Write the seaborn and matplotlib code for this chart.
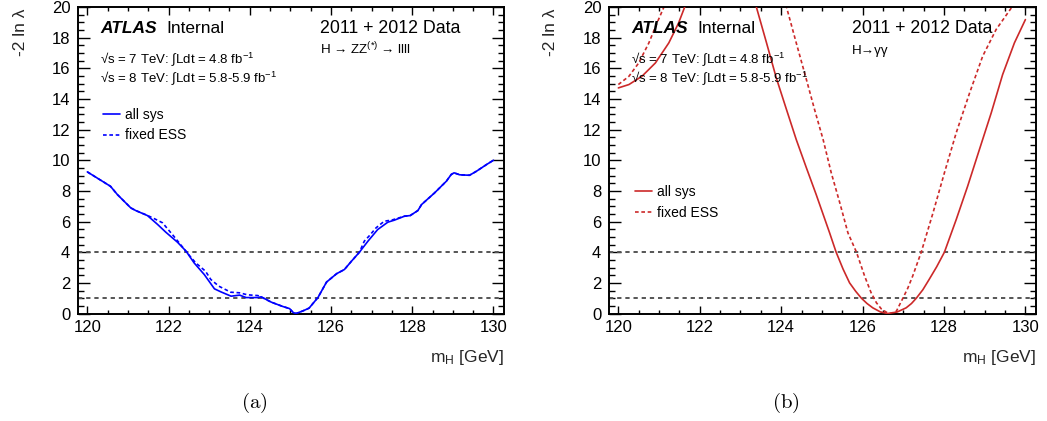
import matplotlib
matplotlib.use("Agg")
import matplotlib.pyplot as plt
from matplotlib.ticker import MultipleLocator
import pandas as pd
import seaborn as sns

# ---------------- H -> ZZ(*) -> 4l : -2 ln lambda vs mH ----------------
zz_mass_all = [120.00, 120.57, 120.74, 121.07, 121.19, 121.48, 121.73, 121.93,
               122.22, 122.43, 122.63, 122.88, 123.13, 123.29, 123.54, 123.75,
               123.91, 124.20, 124.28, 124.53, 124.81, 124.98, 125.07, 125.14,
               125.30, 125.46, 125.68, 125.89, 126.14, 126.33, 126.50, 126.70,
               126.91, 127.15, 127.40, 127.56, 127.81, 127.95, 128.14, 128.23,
               128.55, 128.84, 128.96, 129.03, 129.17, 129.41, 129.58, 129.83,
               130.00]
zz_nll_all = [9.24, 8.30, 7.76, 6.89, 6.72, 6.39, 5.81, 5.31,
              4.65, 4.07, 3.30, 2.54, 1.61, 1.41, 1.13, 1.20,
              1.04, 1.04, 1.09, 0.74, 0.46, 0.32, 0.06, 0.00,
              0.16, 0.35, 1.05, 2.05, 2.60, 2.87, 3.40, 4.00,
              4.72, 5.48, 5.96, 6.09, 6.35, 6.39, 6.72, 7.11,
              7.87, 8.63, 9.07, 9.18, 9.05, 9.02, 9.28, 9.72,
              10.00]

zz_mass_fixed = [120.00, 120.57, 120.74, 121.07, 121.19, 121.48, 121.64, 121.85,
                 122.13, 122.34, 122.46, 122.67, 122.91, 123.04, 123.24, 123.53,
                 123.75, 123.94, 124.20, 124.30, 124.53, 124.81, 124.98, 125.07,
                 125.14, 125.30, 125.46, 125.68, 125.89, 126.14, 126.33, 126.50,
                 126.70, 126.82, 126.95, 127.11, 127.31, 127.50, 127.81, 127.95,
                 128.14, 128.23, 128.55, 128.84, 128.96, 129.03, 129.17, 129.41,
                 129.58, 129.83, 130.00]
zz_nll_fixed = [9.24, 8.30, 7.76, 6.89, 6.72, 6.40, 6.20, 5.92,
                5.04, 4.35, 3.95, 3.30, 2.76, 2.22, 1.78, 1.39,
                1.35, 1.22, 1.17, 1.05, 0.74, 0.46, 0.32, 0.06,
                0.00, 0.16, 0.35, 1.05, 2.05, 2.60, 2.87, 3.40,
                4.00, 4.72, 5.09, 5.59, 6.02, 6.10, 6.35, 6.39,
                6.72, 7.11, 7.87, 8.63, 9.07, 9.18, 9.05, 9.02,
                9.28, 9.72, 10.00]

# ---------------- H -> gamma gamma : -2 ln lambda vs mH ----------------
gg_mass_all = [120.00, 120.26, 120.58, 120.91, 121.24, 121.48, 121.63, 121.90,
               122.50, 123.10, 123.39, 123.64, 123.88, 124.13, 124.37, 124.62,
               124.86, 125.19, 125.35, 125.52, 125.68, 125.83, 125.97, 126.11,
               126.25, 126.44, 126.62, 126.85, 127.07, 127.20, 127.32, 127.48,
               127.63, 127.82, 128.01, 128.30, 128.58, 128.87, 129.16, 129.44,
               129.73, 130.00]
gg_nll_all = [14.72, 14.94, 15.48, 16.35, 17.66, 18.96, 20.00, 21.50,
              22.50, 21.80, 20.00, 17.66, 15.37, 13.31, 11.35, 9.50,
              7.76, 5.26, 4.00, 2.90, 2.00, 1.45, 1.00, 0.65,
              0.37, 0.10, 0.00, 0.10, 0.37, 0.65, 1.00, 1.55,
              2.20, 3.05, 4.00, 6.13, 8.30, 10.70, 13.09, 15.59,
              17.66, 19.18]

gg_mass_fixed = [120.00, 120.26, 120.50, 120.75, 120.95, 121.12, 121.40, 122.60,
                 123.90, 124.13, 124.37, 124.62, 124.82, 125.03, 125.23, 125.44,
                 125.64, 125.85, 126.05, 126.21, 126.34, 126.46, 126.58, 126.70,
                 126.83, 126.99, 127.11, 127.23, 127.44, 127.73, 128.01, 128.30,
                 128.63, 128.95, 129.28, 129.67, 130.00]
gg_nll_fixed = [14.94, 15.48, 16.35, 17.66, 18.96, 20.00, 21.60, 23.20,
                21.50, 20.00, 17.66, 15.26, 13.31, 11.35, 9.18, 7.22,
                5.26, 4.00, 2.44, 1.35, 0.70, 0.30, 0.09, 0.00,
                0.15, 1.00, 1.65, 2.44, 4.00, 6.57, 9.18, 11.79,
                14.40, 16.79, 18.53, 20.00, 21.30]

series_labels = ["all sys", "fixed ESS"]
reference_levels = [1, 4]
lumi_lines = ["\u221as = 7 TeV: \u222bLdt = 4.8 fb$^{-1}$",
              "\u221as = 8 TeV: \u222bLdt = 5.8-5.9 fb$^{-1}$"]
channel_labels = ["H \u2192 ZZ$^{(*)}$ \u2192 llll", "H\u2192\u03b3\u03b3"]
captions = ["(a)", "(b)"]

sns.set_theme(style="ticks")
plt.rcParams.update({
    "mathtext.fontset": "custom",
    "mathtext.rm": "Liberation Sans",
    "mathtext.it": "Liberation Sans",
    "mathtext.bf": "Liberation Sans:bold",
    "mathtext.default": "regular",
    "axes.linewidth": 1.4,
    "axes.edgecolor": "black",
    "text.color": "black",
    "xtick.color": "black",
    "ytick.color": "black",
})
plt.rcParams["font.family"] = ["Liberation Sans", "DejaVu Sans"]

W, H = 1047, 421
fig = plt.figure(figsize=(W / 100, H / 100), dpi=100)

panel_left_px = [78, 609]
panel_width_px = [426, 427]
top_px, bottom_px = 7, 313.5
caption_x_px = [254, 786]

panels = [
    (zz_mass_all, zz_nll_all, zz_mass_fixed, zz_nll_fixed, "#0000ff", (0.059, 0.615)),
    (gg_mass_all, gg_nll_all, gg_mass_fixed, gg_nll_fixed, "#cc2929", (0.061, 0.362)),
]

for i, (m_all, v_all, m_fix, v_fix, color, leg_anchor) in enumerate(panels):
    ax = fig.add_axes([panel_left_px[i] / W, (H - bottom_px) / H,
                       panel_width_px[i] / W, (bottom_px - top_px) / H])

    for level in reference_levels:
        ax.axhline(level, color="#555555", lw=1.4, linestyle=(0, (2.2, 2.0)), zorder=1)

    df_all = pd.DataFrame({"mH": m_all, "nll": v_all})
    df_fix = pd.DataFrame({"mH": m_fix, "nll": v_fix})
    sns.lineplot(data=df_all, x="mH", y="nll", ax=ax, color=color, lw=1.2,
                 sort=False, estimator=None, label=series_labels[0], zorder=3)
    sns.lineplot(data=df_fix, x="mH", y="nll", ax=ax, color=color, lw=1.2,
                 linestyle=(0, (2.2, 1.6)), sort=False, estimator=None,
                 label=series_labels[1], zorder=2)

    ax.set_xlim(119.77, 130.26)
    ax.set_ylim(0, 20)
    ax.xaxis.set_major_locator(MultipleLocator(2))
    ax.xaxis.set_minor_locator(MultipleLocator(0.5))
    ax.yaxis.set_major_locator(MultipleLocator(2))
    ax.yaxis.set_minor_locator(MultipleLocator(0.5))
    ax.tick_params(which="both", direction="in", top=True, right=True, width=1.0,
                   labelsize=12)
    ax.tick_params(axis="x", which="major", length=5.8, pad=4.5)
    ax.tick_params(axis="x", which="minor", length=2.9)
    ax.tick_params(axis="y", which="major", length=8.6, pad=5.5)
    ax.tick_params(axis="y", which="minor", length=4.3)

    ax.set_xlabel("m$_{H}$ [GeV]", fontsize=12.5, ha="right", va="center")
    ax.xaxis.set_label_coords(1.0, -0.144)
    ax.set_ylabel("-2 ln \u03bb", fontsize=12.5, ha="right", va="center")
    ax.yaxis.set_label_coords(-0.136, 0.995)

    ax.text(0.052, 0.915, "ATLAS", fontsize=12.5, fontweight="bold",
            fontstyle="italic", transform=ax.transAxes, va="baseline")
    ax.text(0.207, 0.915, "Internal", fontsize=12.5, transform=ax.transAxes,
            va="baseline")
    ax.text(0.568, 0.915, "2011 + 2012 Data", fontsize=12.8,
            transform=ax.transAxes, va="baseline")
    ax.text(0.568, 0.846, channel_labels[i], fontsize=9.6,
            transform=ax.transAxes, va="baseline")
    ax.text(0.052, 0.818, lumi_lines[0], fontsize=9.5, transform=ax.transAxes,
            va="baseline")
    ax.text(0.052, 0.756, lumi_lines[1], fontsize=9.5, transform=ax.transAxes,
            va="baseline")

    ax.legend(loc="center left", bbox_to_anchor=leg_anchor, frameon=False,
              fontsize=10, handlelength=1.25, handletextpad=0.35,
              labelspacing=0.5, borderpad=0, borderaxespad=0)

    fig.text(caption_x_px[i] / W, 1 - 403 / H, "$\\mathrm{%s}$" % captions[i],
             ha="center", va="center", fontsize=15, math_fontfamily="cm")

fig.savefig("out.png", dpi=100)
